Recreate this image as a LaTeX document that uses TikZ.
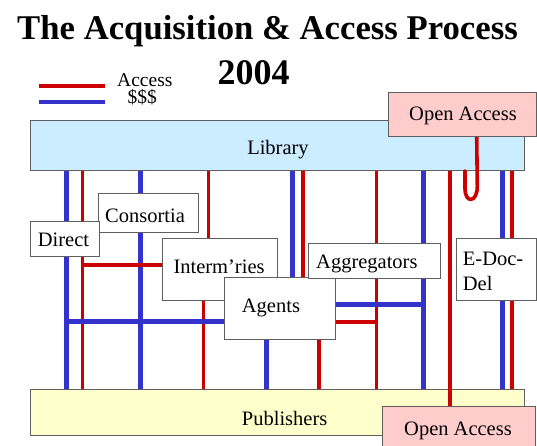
\documentclass[tikz,border=0pt]{standalone}
\usepackage{fontspec}
\setmainfont{Liberation Serif}
\definecolor{redline}{RGB}{204,0,0}
\definecolor{blueline}{RGB}{51,51,204}
\definecolor{libfill}{RGB}{204,236,255}
\definecolor{pubfill}{RGB}{255,255,204}
\definecolor{oafill}{RGB}{255,204,204}
\definecolor{edge}{RGB}{95,95,95}
\begin{document}
\begin{tikzpicture}[x=1pt,y=-1pt,
  boxst/.style={draw=edge, line width=0.9pt, inner sep=0pt, anchor=north west, fill=white},
  lbl/.style={inner sep=0pt, font=\fontsize{20.5}{25}\selectfont},
  lgd/.style={inner sep=0pt, font=\fontsize{19.5}{23}\selectfont},
  rd/.style={draw=redline, line width=3.6pt},
  bl/.style={draw=blueline, line width=5pt},
  titlefont/.style={inner sep=0pt, font=\fontsize{34.7}{40}\selectfont\bfseries}
]
\useasboundingbox (0,0) rectangle (537,446);

% title and legend
\node[titlefont, anchor=base] (title) at (267.5,40) {The Acquisition \& Access Process};
\node[inner sep=0pt, font=\fontsize{36}{40}\selectfont\bfseries, anchor=base] (year) at (253.5,85) {2004};
\coordinate (lg1a) at (39,85.7); \coordinate (lg1b) at (105,85.7);
\coordinate (lg2a) at (39,102); \coordinate (lg2b) at (105,102);
\draw[draw=redline, line width=4pt] (lg1a) -- (lg1b);
\draw[draw=blueline, line width=4pt] (lg2a) -- (lg2b);
\node[lgd, anchor=base west] (lgacc) at (117,86.3) {Access};
\node[lgd, anchor=base west] (lgmon) at (127.3,104) {\$\$\$};

% big boxes
\node[boxst, fill=libfill, minimum width=494, minimum height=50] (lib) at (30,120) {};
\node[boxst, fill=pubfill, minimum width=494, minimum height=46] (pub) at (30,389) {};

% x positions of connectors
\coordinate (b1) at (66.7,0);  \coordinate (r1) at (82.3,0);
\coordinate (b2) at (140,0);   \coordinate (r2a) at (208.3,0);
\coordinate (r2b) at (203.3,0);\coordinate (b3a) at (292.8,0);
\coordinate (r3) at (302.7,0); \coordinate (b3b) at (266.3,0);
\coordinate (r3b) at (319,0);  \coordinate (r4) at (376.3,0);
\coordinate (b4) at (423.3,0); \coordinate (r5) at (449.8,0);
\coordinate (b5) at (502.3,0); \coordinate (r6) at (512.2,0);
\coordinate (hk) at (476.7,0); \coordinate (hkL) at (465,0);
\coordinate (h1) at (0,265);   \coordinate (h2) at (0,321.7);
\coordinate (h3) at (0,304.3);

% small boxes (positions only, used for connector ends)
\path (98,193) coordinate (consNW) (30,221) coordinate (dirNW);
\node[boxst, minimum width=100, minimum height=39, draw=none, fill=none] (cons) at (consNW) {};
\node[boxst, minimum width=69, minimum height=35, draw=none, fill=none] (direct) at (dirNW) {};
\node[boxst, minimum width=115, minimum height=62, draw=none, fill=none] (interm) at (162,238) {};
\node[boxst, minimum width=111, minimum height=62, draw=none, fill=none] (agents) at (224,277) {};
\node[boxst, minimum width=132, minimum height=35, draw=none, fill=none] (aggr) at (308,243) {};
\node[boxst, minimum width=80.5, minimum height=62, draw=none, fill=none] (edoc) at (455.5,238) {};
\node[boxst, minimum width=148, minimum height=44, draw=none, fill=none] (oat) at (388,92) {};
\node[boxst, minimum width=153, minimum height=45, draw=none, fill=none] (oab) at (382,406) {};

% vertical connectors
\draw[bl] (b1 |- lib.south) -- (b1 |- pub.north);
\draw[rd] (r1 |- lib.south) -- (r1 |- pub.north);
\draw[bl] (b2 |- lib.south) -- (b2 |- pub.north);
\draw[rd] (r2a |- lib.south) -- (r2a |- interm.north);
\draw[rd] (r2b |- interm.south) -- (r2b |- pub.north);
\draw[bl] (b3a |- lib.south) -- (b3a |- agents.north);
\draw[rd] (r3 |- lib.south) -- (r3 |- agents.north);
\draw[bl] (b3b |- agents.south) -- (b3b |- pub.north);
\draw[rd] (r3b |- agents.south) -- (r3b |- pub.north);
\draw[rd] (r4 |- lib.south) -- (r4 |- aggr.north);
\draw[rd] (r4 |- aggr.south) -- (r4 |- pub.north);
\draw[bl] (b4 |- lib.south) -- (b4 |- aggr.north);
\draw[bl] (b4 |- aggr.south) -- (b4 |- pub.north);
\draw[rd] (r5 |- lib.south) -- (r5 |- oab.north);
\draw[bl] (b5 |- lib.south) -- (b5 |- edoc.north);
\draw[bl] (b5 |- edoc.south) -- (b5 |- pub.north);
\draw[rd] (r6 |- lib.south) -- (r6 |- edoc.north);
\draw[rd] (r6 |- edoc.south) -- (r6 |- pub.north);

% horizontal connectors
\draw[rd] (r1 |- h1) -- (interm.west |- h1);
\draw[bl] (b1 |- h2) -- (agents.west |- h2);
\draw[bl] (agents.east |- h3) -- (b4 |- h3);
\draw[rd] (agents.east |- h2) -- (r4 |- h2);

% open access hook
\draw[rd, line cap=round] (hk |- oat.south) -- (477.3,186)
  .. controls (477.6,203) and (464.6,204) .. (465,188) -- (hkL |- lib.south);

% visible boxes on top
\node[boxst, fill=oafill, minimum width=148, minimum height=44] (oatB) at (388,92) {};
\node[boxst, fill=oafill, minimum width=153, minimum height=45] (oabB) at (382,406) {};
\node[boxst, minimum width=100, minimum height=39] (consB) at (consNW) {};
\node[boxst, minimum width=69, minimum height=35] (directB) at (dirNW) {};
\node[boxst, minimum width=115, minimum height=62] (intermB) at (162,238) {};
\node[boxst, minimum width=111, minimum height=62] (agentsB) at (224,277) {};
\node[boxst, minimum width=132, minimum height=35] (aggrB) at (308,243) {};
\node[boxst, minimum width=80.5, minimum height=62] (edocB) at (455.5,238) {};

% labels
\node[lbl, anchor=base] (libT) at (278,155) {Library};
\node[lbl, anchor=base west] (pubT) at (241.7,425) {Publishers};
\node[lbl, anchor=base west] (oatT) at (409,121) {Open Access};
\node[lbl, anchor=base west] (oabT) at (404,435) {Open Access};
\node[lbl, anchor=base west] (dirT) at (37.7,246) {Direct};
\node[lbl, anchor=base west] (consT) at (105,222.3) {Consortia};
\node[lbl, anchor=base west] (intT) at (173.3,273.3) {Interm’ries};
\node[lbl, anchor=base west] (agT) at (241.7,312.3) {Agents};
\node[lbl, anchor=base west] (aggT) at (316,268.3) {Aggregators};
\node[lbl, anchor=base west] (edT1) at (462.7,265) {E-Doc-};
\node[lbl, anchor=base west] (edT2) at (462.7,290) {Del};
\end{tikzpicture}
\end{document}
